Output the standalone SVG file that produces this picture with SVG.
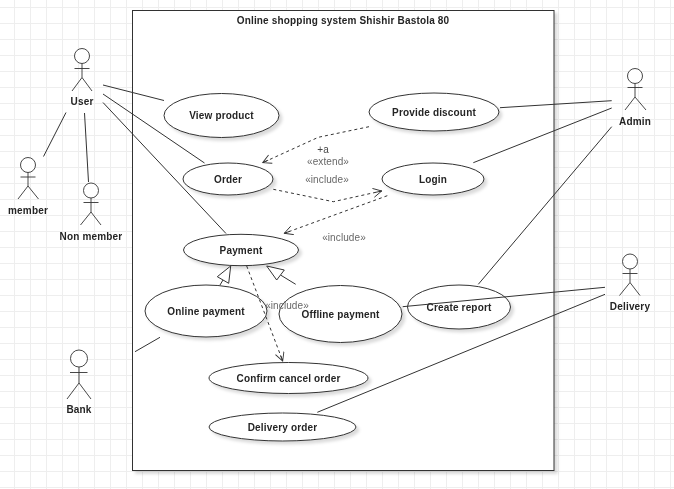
<svg xmlns="http://www.w3.org/2000/svg" width="674" height="489" viewBox="0 0 674 489">
<style>
text{font-family:"Liberation Sans",Arial,sans-serif;text-anchor:middle;opacity:.99}
.b{font-size:10px;font-weight:bold;fill:#222;letter-spacing:.17px}
.l{font-size:10px;fill:#666;letter-spacing:.1px}
.u{fill:#fff;stroke:#333;stroke-width:1;filter:url(#s)}
.a{fill:#fff;stroke:#333;stroke-width:.9}
.c line,.c polyline,.c polygon{stroke:#333;fill:none;stroke-width:1}
.c .d{stroke-dasharray:3 3;marker-end:url(#o)}
.c polygon{fill:#fff}
</style>
<defs>
<pattern id="g" width="16" height="16" patternUnits="userSpaceOnUse" x="14" y="7"><path d="M.5 0V16M0 .5H16" fill="none" stroke="#eeeeee" stroke-width="1"/></pattern>
<filter id="s" x="-10%" y="-15%" width="125%" height="140%"><feDropShadow dx="3" dy="3" stdDeviation="1.500" flood-color="#000" flood-opacity=".14"/></filter>
<marker id="o" markerWidth="12" markerHeight="12" refX="9.500" refY="5" orient="auto" markerUnits="userSpaceOnUse"><path d="M1 .5L9.500 5L1 9.500M9.500 5L3.500 5" fill="none" stroke="#333" stroke-width=".9"/></marker>
</defs>
<rect width="674" height="489" fill="#fff"/>
<rect width="674" height="489" fill="url(#g)"/>
<g id="system">
<rect x="132.500" y="10.500" width="421.500" height="460" class="u"/>
<text class="b" x="343" y="24">Online shopping system Shishir Bastola 80</text>
</g>
<g id="view-product"><ellipse class="u" cx="221.500" cy="115.500" rx="57.500" ry="22"/><text class="b" x="221.500" y="119">View product</text></g>
<g id="provide-discount"><ellipse class="u" cx="434" cy="112" rx="65" ry="19"/><text class="b" x="434" y="116">Provide discount</text></g>
<g id="order"><ellipse class="u" cx="228" cy="179" rx="45" ry="16"/><text class="b" x="228" y="183">Order</text></g>
<g id="login"><ellipse class="u" cx="433" cy="179" rx="51" ry="16"/><text class="b" x="433" y="183">Login</text></g>
<g id="payment"><ellipse class="u" cx="241" cy="250" rx="57.500" ry="15.700"/><text class="b" x="241" y="253.500">Payment</text></g>
<g id="online-payment"><ellipse class="u" cx="206" cy="311" rx="61" ry="26"/><text class="b" x="206" y="315">Online payment</text></g>
<g id="offline-payment"><ellipse class="u" cx="340.500" cy="314" rx="61.500" ry="28.500"/><text class="b" x="340.500" y="317.500">Offline payment</text></g>
<g id="create-report"><ellipse class="u" cx="459" cy="307" rx="51.500" ry="22"/><text class="b" x="459" y="311">Create report</text></g>
<g id="confirm-cancel-order"><ellipse class="u" cx="288.500" cy="378" rx="79.500" ry="15.500"/><text class="b" x="288.500" y="381.500">Confirm cancel order</text></g>
<g id="delivery-order"><ellipse class="u" cx="282.500" cy="427" rx="73.500" ry="14"/><text class="b" x="282.500" y="431">Delivery order</text></g>
<g id="user"><g class="a"><circle cx="82" cy="56" r="7.500"/><path d="M74.500 68.500H89.500M82 63.500V77.500L72 91M82 77.500L92 91" fill="none"/></g><text class="b" x="82" y="105">User</text></g>
<g id="member"><g class="a"><circle cx="28" cy="165" r="7.500"/><path d="M20.500 177H35.500M28 172.500V186L18 199M28 186L38.500 199" fill="none"/></g><text class="b" x="28" y="214">member</text></g>
<g id="non-member"><g class="a"><circle cx="91" cy="190.500" r="7.500"/><path d="M83.500 202.500H98.500M91 198V212L80.500 225M91 212L101 225" fill="none"/></g><text class="b" x="91" y="240">Non member</text></g>
<g id="bank"><g class="a"><circle cx="79" cy="358.500" r="8.500"/><path d="M70 372.500H87.500M79 367V383L67 399M79 383L91 399" fill="none"/></g><text class="b" x="79" y="413">Bank</text></g>
<g id="admin"><g class="a"><circle cx="635" cy="76" r="7.500"/><path d="M627.500 87.500H642.500M635 83.500V97L625 110M635 97L646 110" fill="none"/></g><text class="b" x="635" y="125">Admin</text></g>
<g id="delivery"><g class="a"><circle cx="630" cy="261.500" r="7.500"/><path d="M622.500 273.500H637.500M630 269V282.500L619.500 295.500M630 282.500L640 295.500" fill="none"/></g><text class="b" x="630" y="310">Delivery</text></g>
<g id="connectors" class="c">
<line x1="103" y1="85" x2="164" y2="100.500"/>
<line x1="103" y1="94" x2="204.500" y2="163"/>
<line x1="103" y1="102.500" x2="226" y2="233.500"/>
<line x1="66" y1="112.500" x2="43.500" y2="156.500"/>
<line x1="84.500" y1="113" x2="88.500" y2="182"/>
<line x1="160" y1="337.300" x2="135" y2="351.700"/>
<line x1="500" y1="107.700" x2="611.700" y2="100.700"/>
<line x1="473.300" y1="162.700" x2="611.700" y2="108"/>
<line x1="611.700" y1="126.700" x2="478.300" y2="284.300"/>
<line x1="402.700" y1="306.700" x2="605" y2="287.300"/>
<line x1="605" y1="294.300" x2="317.300" y2="412.300"/>
<polyline class="d" points="369,126.700 318.300,137.300 262.700,162.700"/>
<polyline class="d" points="273.300,189.300 333.300,201.700 381.700,191"/>
<line class="d" x1="387.300" y1="195.700" x2="284.300" y2="233.300"/>
<line class="d" x1="246.700" y1="266" x2="282.700" y2="361"/>
<line x1="220" y1="285" x2="223" y2="280"/>
<polygon points="230.700,266 217.300,276.700 228.700,283.300"/>
<line x1="295.700" y1="284.300" x2="280.500" y2="275"/>
<polygon points="266.700,266 276.700,280 284.300,270"/>
</g>
<g id="connector-labels">
<text class="l" x="323" y="153" style="fill:#444">+a</text>
<text class="l" x="328" y="165">«extend»</text>
<text class="l" x="327" y="183">«include»</text>
<text class="l" x="344" y="241">«include»</text>
<text class="l" x="287" y="309">«include»</text>
</g>
</svg>
